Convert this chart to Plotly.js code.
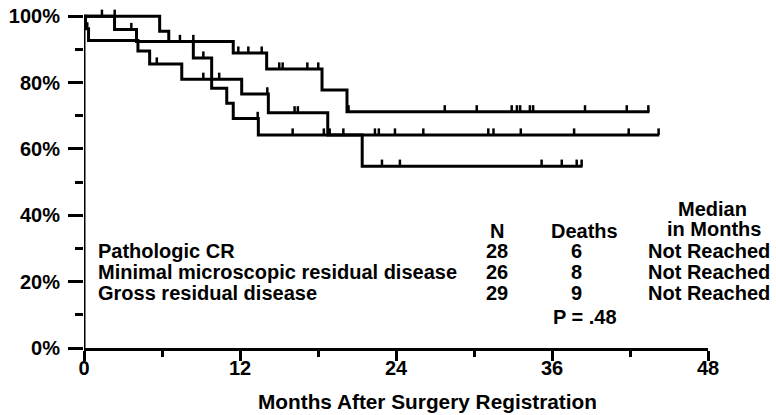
<!DOCTYPE html>
<html><head><meta charset="utf-8">
<script src="https://cdn.plot.ly/plotly-3.0.1.min.js"></script>
<style>html,body{margin:0;padding:0;background:#fff}</style>
</head><body>
<div id="chart" style="width:776px;height:415px"></div>
<script>
// ---- Table / legend content ----
const groupNames = ["Pathologic CR", "Minimal microscopic residual disease", "Gross residual disease"];
const groupN = [28, 26, 29];
const groupDeaths = [6, 8, 9];
const groupMedian = ["Not Reached", "Not Reached", "Not Reached"];
const pValueText = "P = .48";
const headerN = "N";
const headerDeaths = "Deaths";
const headerMedian = ["Median", "in Months"];

// ---- Kaplan-Meier step data (months, % surviving) ----
const crTimes = [0, 2.35, 4.04, 11.48, 14.05, 18.31, 20.23, 43.5];
const crSurv  = [100, 96.0, 92.4, 88.9, 84.1, 77.8, 71.2, 71.2];
const crCensor = [3.64, 7.38, 8.41, 11.87, 12.64, 13.67, 15.02, 15.28, 17.18, 18.02, 20.35,
                  27.75, 30.21, 32.9, 33.3, 33.55, 34.3, 34.55, 38.54, 41.75, 43.41];

const mmTimes = [0, 0.12, 0.35, 4.15, 5.05, 7.52, 12.13, 14.18, 18.75, 44.25];
const mmSurv  = [100, 96.2, 92.7, 89.5, 85.6, 81.0, 76.6, 70.9, 64.2, 64.2];
const mmCensor = [0.25, 5.6, 9.18, 10.4, 14.1, 16.2, 16.45, 18.9, 19.95, 22.38, 22.68, 23.92,
                  26.1, 31.1, 31.5, 33.6, 37.7, 41.9, 44.2];

const grTimes = [0, 5.82, 6.52, 8.41, 9.82, 10.98, 11.48, 13.41, 21.4, 38.35];
const grSurv  = [100, 95.5, 92.4, 87.4, 78.3, 73.8, 69.2, 64.2, 54.8, 54.8];
const grCensor = [1.38, 2.36, 9.18, 13.36, 16.05, 18.45, 22.92, 24.3, 35.2, 36.75, 37.9, 38.28];

// ---- Axis ticks ----
const xTickVals = [0, 12, 24, 36, 48];
const xMinorTicks = [6, 18, 30, 42];
const yTickVals = [0, 20, 40, 60, 80, 100];
const yTickText = ["0%", "20%", "40%", "60%", "80%", "100%"];
const yMinorTicks = [10, 30, 50, 70, 90];
const xTitle = "Months After Surgery Registration";

// ---- build ----
const FONT = "Liberation Sans, Arial, Helvetica, sans-serif";
const CENSOR_H = 2.0;

function survAt(times, surv, t) {
  let s = surv[0];
  for (let i = 0; i < times.length; i++) { if (times[i] <= t) s = surv[i]; }
  return s;
}
function stepTrace(times, surv, name) {
  return {type: "scatter", mode: "lines", x: times, y: surv, name: name,
          line: {shape: "hv", color: "#000", width: 3}, showlegend: false, hoverinfo: "skip"};
}
function censorTrace(times, surv, cens, name) {
  const xs = [], ys = [];
  cens.forEach(t => { const s = survAt(times, surv, t); xs.push(t, t, null); ys.push(s, s + CENSOR_H, null); });
  return {type: "scatter", mode: "lines", x: xs, y: ys, name: name + " censored",
          line: {color: "#000", width: 2.5}, showlegend: false, hoverinfo: "skip", connectgaps: false};
}

const traces = [
  stepTrace(crTimes, crSurv, groupNames[0]), censorTrace(crTimes, crSurv, crCensor, groupNames[0]),
  stepTrace(mmTimes, mmSurv, groupNames[1]), censorTrace(mmTimes, mmSurv, mmCensor, groupNames[1]),
  stepTrace(grTimes, grSurv, groupNames[2]), censorTrace(grTimes, grSurv, grCensor, groupNames[2])
];

const txtFont = {family: FONT, size: 20, color: "#000", weight: "bold"};
const rowY = [29.2, 22.9, 16.6];
const annotations = [];
function ann(x, y, text, xanchor, xref, yref) {
  annotations.push({x: x, y: y, xref: xref || "x", yref: yref || "y", text: text, showarrow: false,
                    xanchor: xanchor, yanchor: "middle", font: txtFont});
}
groupNames.forEach((g, i) => {
  ann(0.9, rowY[i], g, "left");
  ann(31.8, rowY[i], String(groupN[i]), "center");
  ann(37.9, rowY[i], String(groupDeaths[i]), "center");
  ann(1.002, rowY[i], groupMedian[i], "center", "paper");
});
ann(31.8, 35.4, headerN, "center");
ann(38.5, 35.4, headerDeaths, "center");
ann(1.008, 42.0, headerMedian[0], "center", "paper");
ann(1.01, 35.8, headerMedian[1], "center", "paper");
ann(38.5, 9.35, pValueText, "center");
annotations.push({x: 26.4, y: -0.155, xref: "x", yref: "paper", text: xTitle, showarrow: false,
                  xanchor: "center", yanchor: "middle", font: {family: FONT, size: 20.8, color: "#000", weight: "bold"}});

const layout = {
  width: 776, height: 415,
  margin: {l: 84, r: 68, t: 3, b: 67, pad: 0},
  paper_bgcolor: "#fff", plot_bgcolor: "#fff",
  showlegend: false,
  xaxis: {range: [0, 48], tickvals: xTickVals, ticktext: xTickVals.map(String), ticks: "outside", ticklen: 10, tickwidth: 3,
          tickcolor: "#000", showline: true, linecolor: "#000", linewidth: 3, showgrid: false, zeroline: false,
          ticklabelstandoff: -10,
          tickfont: {family: FONT, size: 20, color: "#000", weight: "bold"}, automargin: false, fixedrange: true,
          minor: {tickvals: xMinorTicks, ticks: "outside", ticklen: 6, tickwidth: 3, tickcolor: "#000", showgrid: false}},
  yaxis: {range: [0, 104], tickvals: yTickVals, ticktext: yTickText, ticks: "outside", ticklen: 15, tickwidth: 3,
          tickcolor: "#000", showline: false, showgrid: false, zeroline: false, ticklabelstandoff: 4,
          tickfont: {family: FONT, size: 20, color: "#000", weight: "bold"}, automargin: false, fixedrange: true,
          minor: {tickvals: yMinorTicks, ticks: "outside", ticklen: 8, tickwidth: 3, tickcolor: "#000", showgrid: false}},
  shapes: [{type: "line", xref: "x", yref: "y", x0: 0, x1: 0, y0: 0, y1: 100, line: {color: "#000", width: 3}}],
  annotations: annotations
};

Plotly.newPlot("chart", traces, layout, {displayModeBar: false, staticPlot: true});
</script>
</body></html>
